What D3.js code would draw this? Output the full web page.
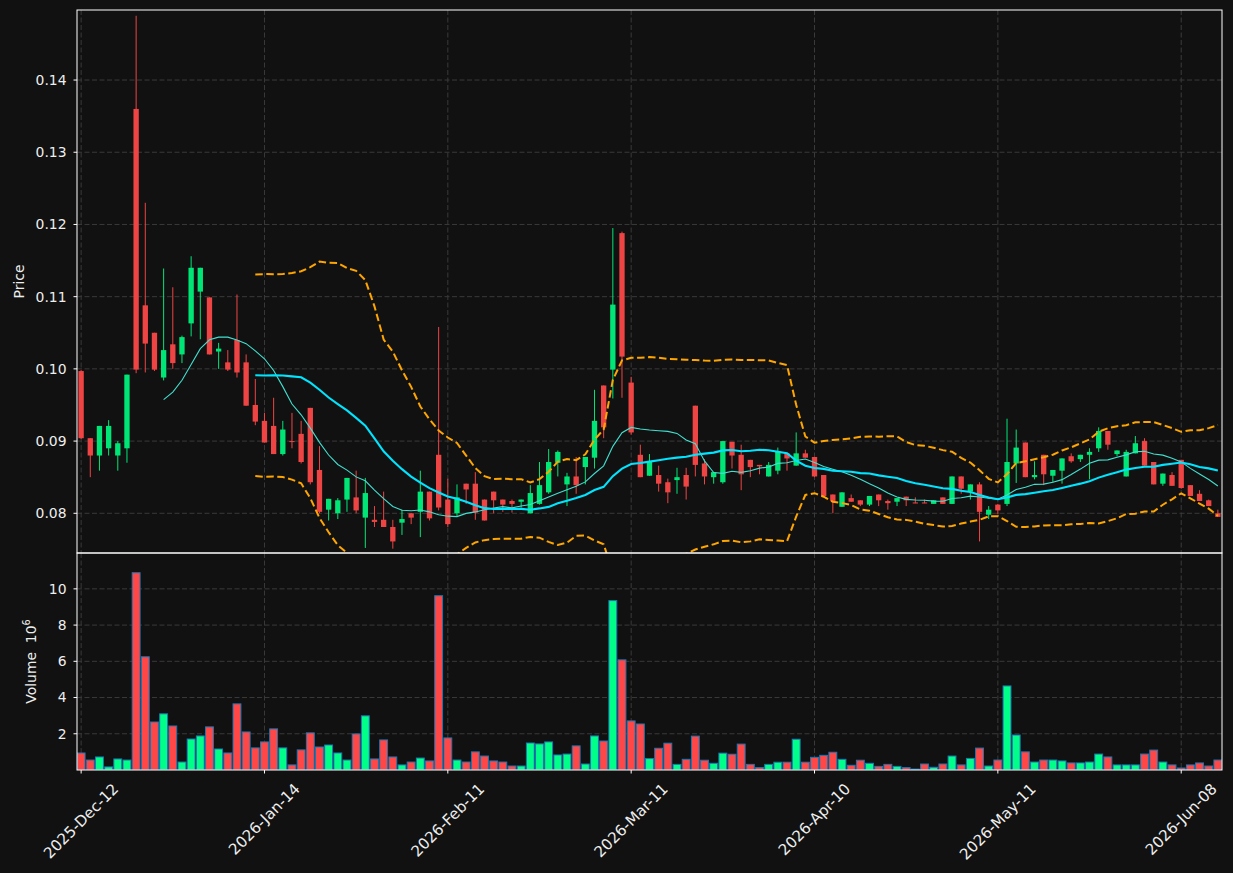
<!DOCTYPE html>
<html><head><meta charset="utf-8">
<script src="https://cdn.jsdelivr.net/npm/d3@7"></script>
<style>html,body{margin:0;padding:0;background:#111111;} svg{display:block;}</style>
</head><body>
<svg id="chart" width="1233" height="873"></svg>
<script>
// ---------- data ----------
const opens = [0.0997,0.0904,0.0880,0.0890,0.0880,0.0890,0.1360,0.1088,0.1050,0.0988,
0.1034,0.1020,0.1063,0.1107,0.1099,0.1024,0.1009,0.1040,0.1009,0.0950,
0.0928,0.0921,0.0882,0.0900,0.0910,0.0946,0.0860,0.0805,0.0800,0.0819,
0.0822,0.0794,0.0791,0.0791,0.0781,0.0787,0.0800,0.0802,0.0830,0.0881,
0.0819,0.0800,0.0841,0.0841,0.0819,0.0830,0.0819,0.0817,0.0816,0.0800,
0.0813,0.0829,0.0870,0.0840,0.0851,0.0864,0.0877,0.0977,0.0999,0.1188,
0.0981,0.0881,0.0852,0.0853,0.0843,0.0846,0.0853,0.0949,0.0869,0.0850,
0.0843,0.0899,0.0881,0.0874,0.0867,0.0851,0.0859,0.0883,0.0866,0.0883,
0.0878,0.0853,0.0826,0.0809,0.0821,0.0818,0.0812,0.0826,0.0817,0.0816,
0.0823,0.0815,0.0815,0.0813,0.0822,0.0813,0.0851,0.0830,0.0840,0.0798,
0.0812,0.0813,0.0869,0.0898,0.0850,0.0881,0.0852,0.0859,0.0879,0.0875,
0.0881,0.0890,0.0914,0.0882,0.0851,0.0883,0.0900,0.0871,0.0841,0.0853,
0.0874,0.0839,0.0827,0.0818,0.0800];
const highs = [0.0998,0.0904,0.0921,0.0929,0.0900,0.0992,0.1489,0.1230,0.1050,0.1139,
0.1113,0.1046,0.1156,0.1140,0.1099,0.1036,0.1026,0.1103,0.1020,0.0986,
0.0939,0.0960,0.0928,0.0939,0.0928,0.0946,0.0893,0.0820,0.0821,0.0849,
0.0859,0.0849,0.0810,0.0830,0.0791,0.0805,0.0800,0.0859,0.0830,0.1058,
0.0848,0.0840,0.0841,0.0857,0.0819,0.0830,0.0819,0.0819,0.0819,0.0839,
0.0871,0.0889,0.0887,0.0856,0.0878,0.0878,0.0971,0.0977,0.1195,0.1190,
0.0989,0.0895,0.0882,0.0866,0.0848,0.0863,0.0863,0.0949,0.0875,0.0857,
0.0900,0.0899,0.0895,0.0874,0.0867,0.0871,0.0891,0.0883,0.0912,0.0888,
0.0878,0.0853,0.0826,0.0829,0.0826,0.0818,0.0824,0.0826,0.0819,0.0821,
0.0823,0.0822,0.0819,0.0818,0.0822,0.0851,0.0851,0.0840,0.0843,0.0810,
0.0813,0.0931,0.0916,0.0898,0.0872,0.0881,0.0860,0.0876,0.0883,0.0881,
0.0890,0.0919,0.0914,0.0887,0.0888,0.0907,0.0904,0.0871,0.0855,0.0857,
0.0874,0.0839,0.0832,0.0819,0.0805];
const lows = [0.0903,0.0850,0.0859,0.0880,0.0859,0.0870,0.0994,0.0995,0.0997,0.0984,
0.1000,0.1008,0.1045,0.1041,0.1020,0.1000,0.0997,0.0988,0.0949,0.0922,
0.0898,0.0882,0.0880,0.0890,0.0869,0.0840,0.0800,0.0790,0.0792,0.0802,
0.0800,0.0752,0.0781,0.0781,0.0751,0.0770,0.0785,0.0767,0.0790,0.0804,
0.0781,0.0795,0.0813,0.0791,0.0790,0.0800,0.0802,0.0801,0.0808,0.0800,
0.0812,0.0827,0.0851,0.0810,0.0827,0.0840,0.0862,0.0904,0.0959,0.0960,
0.0909,0.0850,0.0852,0.0830,0.0814,0.0827,0.0819,0.0851,0.0840,0.0841,
0.0841,0.0862,0.0832,0.0850,0.0854,0.0851,0.0854,0.0859,0.0866,0.0877,
0.0850,0.0824,0.0800,0.0809,0.0816,0.0810,0.0810,0.0810,0.0805,0.0810,
0.0810,0.0814,0.0814,0.0813,0.0813,0.0813,0.0827,0.0819,0.0761,0.0792,
0.0799,0.0810,0.0842,0.0850,0.0847,0.0839,0.0843,0.0841,0.0870,0.0871,
0.0847,0.0885,0.0888,0.0879,0.0851,0.0883,0.0866,0.0840,0.0838,0.0838,
0.0834,0.0824,0.0817,0.0810,0.0795];
const closes = [0.0904,0.0880,0.0921,0.0921,0.0897,0.0992,0.0999,0.1035,0.0999,0.1026,
0.1008,0.1044,0.1140,0.1140,0.1020,0.1028,0.0999,0.0995,0.0949,0.0927,
0.0898,0.0882,0.0916,0.0899,0.0871,0.0843,0.0802,0.0820,0.0818,0.0849,
0.0804,0.0828,0.0788,0.0781,0.0761,0.0792,0.0794,0.0830,0.0793,0.0808,
0.0785,0.0822,0.0833,0.0801,0.0790,0.0818,0.0812,0.0813,0.0819,0.0828,
0.0839,0.0871,0.0885,0.0851,0.0839,0.0878,0.0928,0.0919,0.1089,0.1017,
0.0912,0.0850,0.0871,0.0841,0.0829,0.0850,0.0837,0.0867,0.0851,0.0857,
0.0900,0.0880,0.0854,0.0864,0.0865,0.0867,0.0886,0.0876,0.0883,0.0877,
0.0851,0.0824,0.0817,0.0829,0.0816,0.0812,0.0824,0.0818,0.0814,0.0821,
0.0818,0.0814,0.0814,0.0818,0.0813,0.0851,0.0834,0.0840,0.0802,0.0805,
0.0804,0.0871,0.0891,0.0850,0.0853,0.0854,0.0860,0.0876,0.0872,0.0881,
0.0885,0.0914,0.0895,0.0887,0.0885,0.0897,0.0866,0.0840,0.0855,0.0838,
0.0835,0.0824,0.0817,0.0810,0.0795];
// volume in millions (axis shows 10^6)
const volumes = [0.94,0.55,0.72,0.17,0.61,0.55,10.89,6.25,2.65,3.10,
2.43,0.44,1.71,1.88,2.38,1.16,0.94,3.65,2.10,1.22,
1.55,2.27,1.22,0.28,1.11,2.05,1.27,1.38,0.94,0.55,
1.99,2.99,0.61,1.66,0.72,0.28,0.44,0.66,0.50,9.62,
1.77,0.55,0.44,1.00,0.77,0.50,0.44,0.22,0.22,1.49,
1.44,1.55,0.83,0.88,1.33,0.33,1.88,1.60,9.35,6.08,
2.71,2.54,0.63,1.20,1.48,0.31,0.59,1.87,0.54,0.37,
0.93,0.87,1.43,0.31,0.13,0.31,0.43,0.43,1.70,0.43,
0.70,0.81,0.98,0.59,0.26,0.54,0.37,0.20,0.31,0.20,
0.13,0.05,0.33,0.15,0.33,0.77,0.28,0.64,1.21,0.22,
0.55,4.64,1.93,1.00,0.44,0.55,0.55,0.50,0.39,0.39,
0.44,0.88,0.72,0.28,0.28,0.28,0.88,1.10,0.44,0.28,
0.11,0.28,0.39,0.22,0.55];
const priceTicks = [0.08,0.09,0.10,0.11,0.12,0.13,0.14];
const volumeTicks = [2,4,6,8,10];
const xTickIndex = [0,20,40,60,80,100,120];
const xTickLabels = ["2025-Dec-12","2026-Jan-14","2026-Feb-11","2026-Mar-11","2026-Apr-10","2026-May-11","2026-Jun-08"];
const maShort = 10, maLong = 20, bbStd = 2;

// ---------- layout ----------
const W = 1233, H = 873;
const L = 77, R = 1222, PT = 10, PB = 553, VT = 553, VB = 770;
const BG = "#111111", GRID = "#3a3a3a", TXT = "#eeeeee", SPINE = "#ffffff";
const UP = "#00e676", DOWN = "#ef4444", VUP = "#00ff88", VDOWN = "#ff4747";
const FONT = "DejaVu Sans, Liberation Sans, sans-serif", FS = 13.9, FSX = 15.2;

const svg = d3.select("#chart");
svg.append("rect").attr("width", W).attr("height", H).attr("fill", BG);

const n = closes.length;
const x = d3.scaleLinear().domain([-0.45, n - 1 + 0.45]).range([L, R]);
const step = x(1) - x(0);
const y = d3.scaleLinear().domain([0.0745, 0.1497]).range([PB, PT]);
const yv = d3.scaleLinear().domain([0, d3.max(volumes) * 1.1]).range([VB, VT]);

const defs = svg.append("defs");
defs.append("clipPath").attr("id", "clipP").append("rect")
  .attr("x", L).attr("y", PT).attr("width", R - L).attr("height", PB - PT);
defs.append("clipPath").attr("id", "clipV").append("rect")
  .attr("x", L).attr("y", VT).attr("width", R - L).attr("height", VB - VT);

// grids
const gGrid = svg.append("g").attr("stroke", GRID).attr("stroke-width", 1).attr("stroke-dasharray", "5,2.5");
priceTicks.forEach(t => gGrid.append("line").attr("x1", L).attr("x2", R).attr("y1", y(t)).attr("y2", y(t)));
volumeTicks.forEach(t => gGrid.append("line").attr("x1", L).attr("x2", R).attr("y1", yv(t)).attr("y2", yv(t)));
xTickIndex.forEach(i => {
  gGrid.append("line").attr("x1", x(i)).attr("x2", x(i)).attr("y1", PT).attr("y2", PB);
  gGrid.append("line").attr("x1", x(i)).attr("x2", x(i)).attr("y1", VT).attr("y2", VB);
});

// ---------- candles ----------
const idx = d3.range(n);
const isUp = i => closes[i] >= opens[i];
const gC = svg.append("g").attr("clip-path", "url(#clipP)");
gC.selectAll("line.wick").data(idx).join("line")
  .attr("x1", i => x(i)).attr("x2", i => x(i))
  .attr("y1", i => y(highs[i])).attr("y2", i => y(lows[i]))
  .attr("stroke", i => isUp(i) ? UP : DOWN).attr("stroke-width", 1);
const bw = step * 0.58;
gC.selectAll("rect.body").data(idx).join("rect")
  .attr("x", i => x(i) - bw / 2).attr("width", bw)
  .attr("y", i => Math.min(y(opens[i]), y(closes[i])))
  .attr("height", i => Math.max(1, Math.abs(y(opens[i]) - y(closes[i]))))
  .attr("fill", i => isUp(i) ? UP : DOWN);

// ---------- moving averages & Bollinger ----------
function rolling(arr, w, fn) {
  return arr.map((_, i) => i < w - 1 ? null : fn(arr.slice(i - w + 1, i + 1)));
}
const sma10 = rolling(closes, maShort, a => d3.mean(a));
const sma20 = rolling(closes, maLong, a => d3.mean(a));
const sd20 = rolling(closes, maLong, a => { const m = d3.mean(a); return Math.sqrt(d3.mean(a, v => (v - m) * (v - m))); });
const upper = sma20.map((m, i) => m == null ? null : m + bbStd * sd20[i]);
const lower = sma20.map((m, i) => m == null ? null : m - bbStd * sd20[i]);

const line = arr => d3.line().defined(i => arr[i] != null).x(i => x(i)).y(i => y(arr[i])).curve(d3.curveLinear)(idx);
gC.append("path").attr("d", line(sma10)).attr("fill", "none").attr("stroke", "#40e0d0").attr("stroke-width", 1.1);
gC.append("path").attr("d", line(sma20)).attr("fill", "none").attr("stroke", "#00e5ff").attr("stroke-width", 2.1);
[upper, lower].forEach(arr => gC.append("path").attr("d", line(arr)).attr("fill", "none")
  .attr("stroke", "#ffa500").attr("stroke-width", 2).attr("stroke-dasharray", "7.5,3.5"));

// ---------- volume ----------
const gV = svg.append("g").attr("clip-path", "url(#clipV)");
const vw = step * 0.86;
gV.selectAll("rect").data(idx).join("rect")
  .attr("x", i => x(i) - vw / 2).attr("width", vw)
  .attr("y", i => yv(volumes[i])).attr("height", i => yv(0) - yv(volumes[i]))
  .attr("fill", i => isUp(i) ? VUP : VDOWN)
  .attr("stroke", "#1f77b4").attr("stroke-width", 1);

// ---------- spines ----------
const gS = svg.append("g").attr("fill", "none").attr("stroke", SPINE).attr("stroke-width", 1);
gS.append("rect").attr("x", L).attr("y", PT).attr("width", R - L).attr("height", PB - PT);
gS.append("rect").attr("x", L).attr("y", VT).attr("width", R - L).attr("height", VB - VT);

// ---------- axes ticks & labels ----------
const gT = svg.append("g").attr("font-family", FONT).attr("font-size", FS).attr("fill", TXT);
priceTicks.forEach(t => {
  svg.append("line").attr("x1", L - 3.5).attr("x2", L).attr("y1", y(t)).attr("y2", y(t)).attr("stroke", SPINE);
  gT.append("text").attr("x", L - 10.5).attr("y", y(t)).attr("dy", "0.35em").attr("text-anchor", "end").text(d3.format(".2f")(t));
});
volumeTicks.forEach(t => {
  svg.append("line").attr("x1", L - 3.5).attr("x2", L).attr("y1", yv(t)).attr("y2", yv(t)).attr("stroke", SPINE);
  gT.append("text").attr("x", L - 10.5).attr("y", yv(t)).attr("dy", "0.35em").attr("text-anchor", "end").text(t);
});
xTickIndex.forEach((ti, k) => {
  svg.append("line").attr("x1", x(ti)).attr("x2", x(ti)).attr("y1", VB).attr("y2", VB + 3.5).attr("stroke", SPINE);
  const t = gT.append("text").attr("font-size", FSX).attr("text-anchor", "end").attr("dominant-baseline", "central").text(xTickLabels[k]);
  const w = t.node().getComputedTextLength();
  const h = FSX * 1.0;
  const ax = x(ti) + w / (2 * Math.SQRT2);
  const ay = VB + 11 + h / (2 * Math.SQRT2);
  t.attr("transform", `translate(${ax},${ay}) rotate(-45)`);
});

// axis titles
gT.append("text").attr("transform", `translate(24,${(PT + PB) / 2}) rotate(-90)`)
  .attr("text-anchor", "middle").text("Price");
const vt = gT.append("text").attr("transform", `translate(36,${(VT + VB) / 2}) rotate(-90)`)
  .attr("text-anchor", "middle").attr("xml:space", "preserve");
vt.append("tspan").text("Volume  10");
vt.append("tspan").attr("font-size", FS * 0.7).attr("dy", -FS * 0.45).text("6");
</script>
</body></html>
